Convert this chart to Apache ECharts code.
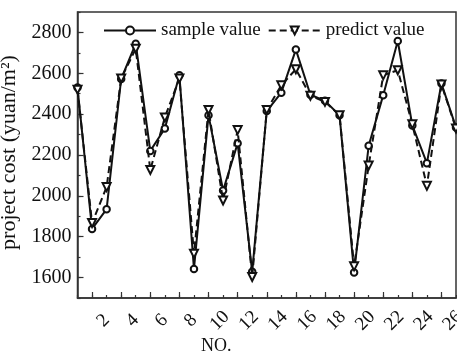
<!DOCTYPE html>
<html>
<head>
<meta charset="utf-8">
<script src="https://cdn.jsdelivr.net/npm/echarts@6/dist/echarts.min.js"></script>
<style>
html,body{margin:0;padding:0;background:#fff;}
#c{width:457px;height:352px;}
</style>
</head>
<body>
<div id="c"></div>
<script>
var no = [1,2,3,4,5,6,7,8,9,10,11,12,13,14,15,16,17,18,19,20,21,22,23,24,25,26,27];
var sampleValue = [2530,1838,1935,2572,2745,2220,2330,2590,1642,2395,2026,2257,1628,2415,2505,2716,2495,2465,2395,1625,2245,2493,2758,2345,2160,2550,2335];
var predictValue = [2520,1867,2043,2575,2720,2127,2384,2575,1717,2420,1977,2322,1603,2420,2541,2620,2490,2460,2395,1655,2148,2590,2615,2350,2049,2545,2330];
var xTicks = [2,4,6,8,10,12,14,16,18,20,22,24,26];
var yTicks = [1600,1800,2000,2200,2400,2600,2800];

var FONT = '"Liberation Serif", "Times New Roman", serif';
function pairs(vals){ return no.map(function(n,i){ return [n, vals[i]]; }); }
function plain(v){ return String(v); }

var chart = echarts.init(document.getElementById('c'), null, {renderer:'canvas'});
chart.setOption({
  animation:false,
  backgroundColor:'#fff',
  grid:{left:77.5, right:1, top:12, bottom:54, containLabel:false, outerBoundsMode:'none',
    show:true, borderColor:'#333', borderWidth:1.5, backgroundColor:'transparent'},
  legend:{
    left:98, top:16, itemWidth:52, itemHeight:10, itemGap:7,
    textStyle:{fontFamily:FONT, fontSize:19, color:'#111'},
    data:['sample value','predict value']
  },
  xAxis:[{
    type:'value', min:1, max:27, interval:1,
    name:'NO.', nameLocation:'middle', nameGap:39, nameMoveOverlap:false,
    nameTextStyle:{fontFamily:FONT, fontSize:18, color:'#111', padding:[0,101,0,0]},
    axisLine:{lineStyle:{color:'#333', width:1.5}},
    axisTick:{inside:true, length:3, lineStyle:{color:'#333', width:1.2}},
    splitLine:{show:false},
    axisLabel:{customValues:xTicks, formatter:plain, rotate:45, align:'center', verticalAlign:'middle', margin:34, padding:[0,0,0,32],
      fontFamily:FONT, fontSize:19, color:'#111'}
  },{
    type:'value', min:1, max:27, position:'bottom',
    axisLine:{show:false}, splitLine:{show:false}, axisLabel:{show:false},
    axisTick:{show:true, inside:true, length:6, customValues:xTicks, lineStyle:{color:'#333', width:1.2}}
  }],
  yAxis:[{
    type:'value', min:1500, max:2900, interval:100,
    name:'project cost (yuan/m²)', nameLocation:'middle', nameGap:57, nameMoveOverlap:false,
    nameTextStyle:{fontFamily:FONT, fontSize:22, color:'#111', padding:[0,0,0,5]},
    axisLine:{show:true, lineStyle:{color:'#333', width:1.5}},
    axisTick:{show:true, inside:true, length:3, lineStyle:{color:'#333', width:1.2}},
    splitLine:{show:false},
    axisLabel:{customValues:yTicks, formatter:plain, margin:6, fontFamily:FONT, fontSize:20, color:'#111'}
  },{
    type:'value', min:1500, max:2900, position:'left',
    axisLine:{show:false}, splitLine:{show:false}, axisLabel:{show:false},
    axisTick:{show:true, inside:true, length:6, customValues:yTicks, lineStyle:{color:'#333', width:1.2}}
  }],
  series:[{
    name:'sample value', type:'line', data:pairs(sampleValue),
    symbol:'emptyCircle', symbolSize:6.5,
    lineStyle:{color:'#111', width:2},
    itemStyle:{color:'#111', borderColor:'#111', borderWidth:1.2},
    z:3
  },{
    name:'predict value', type:'line', data:pairs(predictValue),
    symbol:'emptyTriangle', symbolSize:8, symbolRotate:180,
    lineStyle:{color:'#111', width:2, type:[7,4]},
    itemStyle:{color:'#111', borderColor:'#111', borderWidth:1.2},
    z:4
  }]
});
</script>
</body>
</html>
